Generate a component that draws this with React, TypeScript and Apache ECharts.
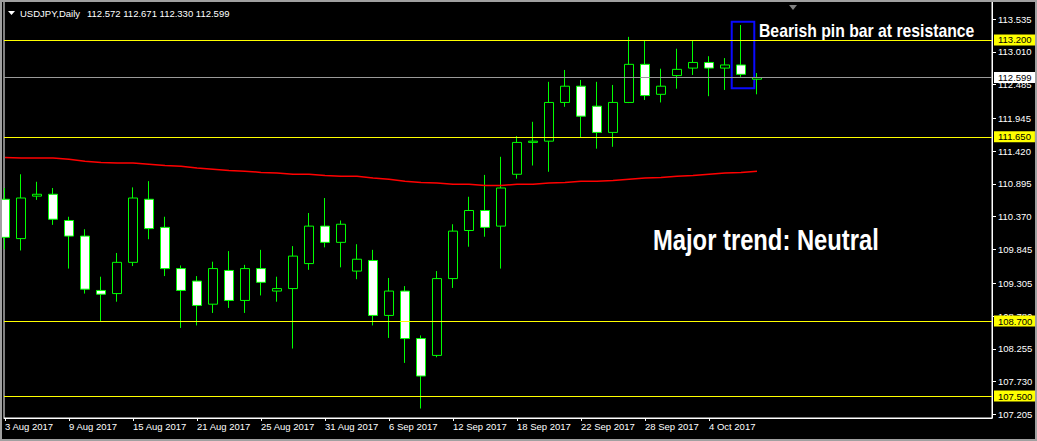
import React, { useEffect, useRef } from 'react';
import * as echarts from 'echarts';

// ---- data ----
const dates = [
  '3 Aug 2017', '4 Aug 2017', '7 Aug 2017', '8 Aug 2017', '9 Aug 2017', '10 Aug 2017', '11 Aug 2017',
  '14 Aug 2017', '15 Aug 2017', '16 Aug 2017', '17 Aug 2017', '18 Aug 2017', '21 Aug 2017', '22 Aug 2017',
  '23 Aug 2017', '24 Aug 2017', '25 Aug 2017', '28 Aug 2017', '29 Aug 2017', '30 Aug 2017', '31 Aug 2017',
  '1 Sep 2017', '4 Sep 2017', '5 Sep 2017', '6 Sep 2017', '7 Sep 2017', '8 Sep 2017', '11 Sep 2017',
  '12 Sep 2017', '13 Sep 2017', '14 Sep 2017', '15 Sep 2017', '18 Sep 2017', '19 Sep 2017', '20 Sep 2017',
  '21 Sep 2017', '22 Sep 2017', '25 Sep 2017', '26 Sep 2017', '27 Sep 2017', '28 Sep 2017', '29 Sep 2017',
  '2 Oct 2017', '3 Oct 2017', '4 Oct 2017', '5 Oct 2017', '6 Oct 2017', '9 Oct 2017',
];
const opens = [
  110.65, 110.02, 110.70, 110.73, 110.31, 110.06, 109.19, 109.14, 109.64, 110.65, 110.20, 109.54,
  109.34, 108.97, 109.51, 109.03, 109.54, 109.18, 109.22, 109.62, 110.22, 109.96, 109.50, 109.67,
  108.79, 109.18, 108.42, 108.15, 109.38, 110.15, 110.47, 110.22, 111.05, 111.56, 111.58, 112.20,
  112.46, 112.14, 111.72, 112.20, 112.81, 112.33, 112.63, 112.75, 112.84, 112.75, 112.80, 112.572,
];
const highs = [
  110.83, 111.05, 110.93, 110.83, 110.37, 110.17, 109.41, 109.79, 110.84, 110.94, 110.37, 109.59,
  109.42, 109.65, 109.82, 109.60, 109.84, 109.41, 109.90, 110.43, 110.67, 110.31, 109.93, 109.84,
  109.39, 109.26, 108.47, 109.50, 110.25, 110.69, 111.04, 111.33, 111.66, 111.89, 112.53, 112.72,
  112.56, 112.53, 112.48, 113.25, 113.19, 112.74, 113.06, 113.19, 112.94, 112.91, 113.44, 112.671,
];
const lows = [
  109.85, 109.83, 110.64, 110.24, 109.54, 109.14, 108.69, 109.01, 109.58, 110.01, 109.42, 108.59,
  108.63, 108.83, 108.91, 108.83, 109.11, 109.01, 108.26, 109.52, 109.88, 109.56, 109.37, 108.63,
  108.43, 108.03, 107.30, 108.12, 109.23, 109.89, 110.05, 109.54, 110.98, 111.19, 111.09, 112.13,
  111.64, 111.46, 111.49, 112.19, 112.24, 112.20, 112.42, 112.64, 112.30, 112.40, 112.61, 112.330,
];
const closes = [
  110.04, 110.67, 110.73, 110.33, 110.06, 109.21, 109.13, 109.64, 110.67, 110.18, 109.54, 109.19,
  108.95, 109.54, 109.03, 109.54, 109.32, 109.22, 109.74, 110.22, 109.96, 110.25, 109.69, 108.79,
  109.18, 108.42, 107.82, 109.38, 110.14, 110.47, 110.20, 110.83, 111.56, 111.58, 112.20, 112.46,
  111.98, 111.72, 112.20, 112.81, 112.31, 112.46, 112.73, 112.84, 112.75, 112.80, 112.65, 112.599,
];
const movingAverage = [
  111.32, 111.31, 111.31, 111.31, 111.29, 111.26, 111.24, 111.23, 111.23, 111.21, 111.19, 111.18,
  111.15, 111.13, 111.11, 111.10, 111.08, 111.07, 111.05, 111.05, 111.03, 111.02, 111.02, 110.99,
  110.97, 110.94, 110.92, 110.91, 110.89, 110.89, 110.87, 110.87, 110.89, 110.89, 110.91, 110.92,
  110.94, 110.94, 110.95, 110.97, 110.99, 111.00, 111.02, 111.03, 111.05, 111.07, 111.08, 111.10,
];
const dateTickIndex = [0, 4, 8, 12, 16, 20, 24, 28, 32, 36, 40, 44];
const priceTicks = [
  113.535, 113.01, 112.485, 111.945, 111.42, 110.895, 110.37, 109.845, 109.305, 108.78, 108.255, 107.73, 107.205,
];
const levels = ['113.200', '111.650', '108.700', '107.500'];
const bidPrice = '112.599';
const headerSymbol = 'USDJPY,Daily';
const headerPrices = '112.572 112.671 112.330 112.599';
const pinBarBox = { x0: 45.42, x1: 46.83, top: 113.493, bottom: 112.426 };
const noteText = 'Bearish pin bar at resistance';
const trendText = 'Major trend: Neutral';

const uiFont = '"Liberation Sans", Arial, sans-serif';

export default function App() {
  const ref = useRef<HTMLDivElement>(null);

  useEffect(() => {
    document.body.style.margin = '0';
    document.body.style.background = '#000';
    if (!ref.current) return;
    const chart = echarts.init(ref.current, null, { renderer: 'svg' });

    const candleData = opens.map((o, i) => [i, o, closes[i], lows[i], highs[i]]);
    const maData = movingAverage.map((v, i) => [i, v]);

    const levelLines = levels.map((v) => ({
      name: v,
      yAxis: Number(v),
      lineStyle: { color: '#ffff00', width: 1, type: 'solid' },
      label: { backgroundColor: '#ffff00' },
    }));
    const bidLine = {
      name: bidPrice,
      yAxis: Number(bidPrice),
      lineStyle: { color: '#9a9a9a', width: 1, type: 'solid' },
      label: { backgroundColor: '#ffffff' },
    };

    const option: any = {
      animation: false,
      backgroundColor: '#000000',
      grid: {
        left: 4,
        right: 45,
        top: 1,
        bottom: 23,
        show: true,
        borderColor: '#ffffff',
        borderWidth: 1,
        backgroundColor: '#000000',
      },
      xAxis: {
        type: 'value',
        min: -0.0625,
        max: 61.6875,
        axisLine: { show: true, onZero: false, lineStyle: { color: '#ffffff', width: 1 } },
        splitLine: { show: false },
        axisTick: { show: true, customValues: dateTickIndex, length: 3, lineStyle: { color: '#ffffff' } },
        axisLabel: {
          show: true,
          customValues: dateTickIndex,
          formatter: (v: number) => dates[Math.round(v)] ?? '',
          color: '#ffffff',
          fontSize: 9.5,
          fontFamily: uiFont,
          align: 'left',
          margin: 3,
        },
      },
      yAxis: {
        type: 'value',
        position: 'right',
        min: 107.148,
        max: 113.824,
        axisLine: { show: true, onZero: false, lineStyle: { color: '#ffffff', width: 1 } },
        splitLine: { show: false },
        axisTick: { show: true, customValues: priceTicks, length: 4, lineStyle: { color: '#ffffff' } },
        axisLabel: {
          show: true,
          customValues: priceTicks,
          formatter: (v: number) => v.toFixed(3),
          color: '#ffffff',
          fontSize: 9.5,
          fontFamily: uiFont,
          margin: 6,
          lineHeight: 10,
        },
      },
      series: [
        {
          type: 'candlestick',
          data: candleData,
          encode: { x: 0, y: [1, 2, 3, 4] },
          barWidth: 10,
          itemStyle: {
            color: '#000000',
            color0: '#ffffff',
            borderColor: '#00ff00',
            borderColor0: '#00ff00',
            borderColorDoji: '#00ff00',
            borderWidth: 1,
          },
          markArea: {
            silent: true,
            itemStyle: { color: 'rgba(0,0,0,0)', borderColor: '#0a0aff', borderWidth: 2 },
            label: { show: false },
            data: [[
              { xAxis: pinBarBox.x0, yAxis: pinBarBox.top },
              { xAxis: pinBarBox.x1, yAxis: pinBarBox.bottom },
            ]],
          },
          markLine: {
            silent: true,
            symbol: ['none', 'none'],
            label: {
              show: true,
              position: 'end',
              distance: 2,
              formatter: '{b}',
              color: '#000000',
              fontSize: 9.5,
              fontFamily: uiFont,
              lineHeight: 10,
              padding: [1, 4, 0, 4],
            },
            data: [...levelLines, bidLine],
          },
        },
        {
          type: 'line',
          data: maData,
          symbol: 'none',
          showSymbol: false,
          z: 3,
          lineStyle: { color: '#ff0000', width: 1.5 },
        },
      ],
      graphic: [
        {
          type: 'polygon',
          shape: { points: [[8, 11], [15, 11], [11.5, 15]] },
          style: { fill: '#ffffff' },
        },
        {
          type: 'text',
          x: 20,
          y: 13,
          style: { text: headerSymbol, fill: '#ffffff', font: `9.5px ${uiFont}`, verticalAlign: 'middle' },
        },
        {
          type: 'text',
          x: 87,
          y: 13,
          style: { text: headerPrices, fill: '#ffffff', font: `9.5px ${uiFont}`, verticalAlign: 'middle' },
        },
        {
          type: 'polygon',
          shape: { points: [[789, 5], [797, 5], [793, 10]] },
          style: { fill: '#808080' },
        },
        {
          type: 'text',
          x: 759,
          y: 30,
          scaleX: 0.83,
          style: { text: noteText, fill: '#ffffff', font: `bold 19px ${uiFont}`, verticalAlign: 'middle' },
        },
        {
          type: 'text',
          x: 653,
          y: 240,
          scaleX: 0.82,
          style: { text: trendText, fill: '#ffffff', font: `bold 29px ${uiFont}`, verticalAlign: 'middle' },
        },
        {
          type: 'rect',
          shape: { x: 1, y: 1, width: 1035, height: 439 },
          style: { fill: 'none', stroke: '#a0a0a0', lineWidth: 2 },
          z: 100,
        },
      ],
    };

    chart.setOption(option);
    return () => chart.dispose();
  }, []);

  return <div ref={ref} style={{ width: 1037, height: 441 }} />;
}
